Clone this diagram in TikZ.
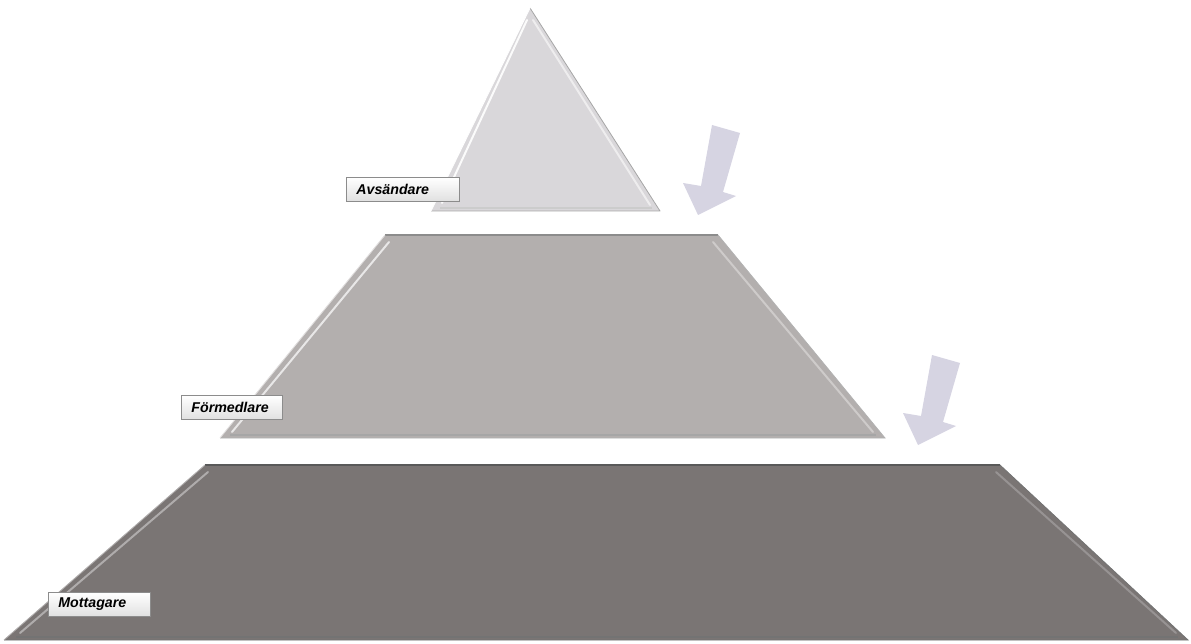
\documentclass[tikz,border=0pt]{standalone}
\usepackage{fontspec}
\setmainfont{Liberation Sans}
\begin{document}
\begin{tikzpicture}[x=1pt,y=-1pt,
  tier/.style={line join=round},
  edgehi/.style={line width=2pt,line cap=round},
  tag/.style={draw=black!45,line width=0.8pt,top color=white,bottom color=black!12,
    text width=#1,align=left,minimum height=24pt,inner xsep=10pt,inner ysep=0pt,
    font=\fontsize{14.2}{15}\selectfont\bfseries\itshape,anchor=north west},
  flow/.style={fill=arrowc,draw=none}]
\definecolor{topc}{HTML}{D9D7DA}
\definecolor{midc}{HTML}{B3AFAE}
\definecolor{lowc}{HTML}{7A7574}
\definecolor{arrowc}{HTML}{D6D4E2}
\useasboundingbox (0,0) rectangle (1191,644);
% coordinates
\coordinate (ta) at (530,8);
\coordinate (tl) at (431,211);
\coordinate (tr) at (660,211);
\coordinate (m1) at (385,235);
\coordinate (m2) at (718,235);
\coordinate (m3) at (885,438);
\coordinate (m4) at (220,438);
\coordinate (b1) at (205,465);
\coordinate (b2) at (1000,465);
\coordinate (b3) at (1188,640);
\coordinate (b4) at (4,640);
% top triangle
\fill[topc] (ta) -- (tr) -- (tl) -- cycle;
\draw[black!35,line width=0.8pt,tier] (ta) -- (tr) -- (tl);
\draw[white,line width=0.9pt] (tl) -- (ta);
\draw[edgehi,white!90!topc] (527,20) -- (442,203);
\draw[edgehi,white!55!topc] (533,20) -- (650,205);
\draw[black!20,line width=1.2pt] (440,208) -- (652,208);
% middle trapezoid
\fill[midc] (m1) -- (m2) -- (m3) -- (m4) -- cycle;
\draw[black!45,line width=1.2pt] (m1) -- (m2);
\draw[black!30,line width=0.8pt] (m2) -- (m3) -- (m4);
\draw[white!60!midc,line width=0.9pt] (m4) -- (m1);
\draw[edgehi,white!70!midc] (389,242) -- (232,432);
\draw[edgehi,white!35!midc] (713,242) -- (873,432);
\draw[black!35,line width=1.2pt] (230,435) -- (876,435);
% bottom trapezoid
\fill[lowc] (b1) -- (b2) -- (b3) -- (b4) -- cycle;
\draw[black!65,line width=1.2pt] (b1) -- (b2);
\draw[black!55,line width=0.8pt] (b2) -- (b3) -- (b4);
\draw[white!40!lowc,line width=0.9pt] (b4) -- (b1);
\draw[edgehi,white!40!lowc] (208,472) -- (20,633);
\draw[edgehi,white!22!lowc] (996,472) -- (1176,633);
\draw[black!55,line width=1.2pt] (16,637) -- (1178,637);
% arrows
\fill[flow] (712,125) -- (740,133) -- (723,192) -- (736,196) -- (698,215) -- (683,183) -- (701,186) -- cycle;
\fill[flow] (932,355) -- (960,363) -- (943,422) -- (956,426) -- (918,445) -- (903,413) -- (921,416) -- cycle;
% labels
\node[tag=93pt] (avs) at (346,177) {Avsändare};
\node[tag=81pt] (form) at (181,395) {Förmedlare};
\node[tag=82pt] (mott) at (48,592) {Mottagare};
\end{tikzpicture}
\end{document}
